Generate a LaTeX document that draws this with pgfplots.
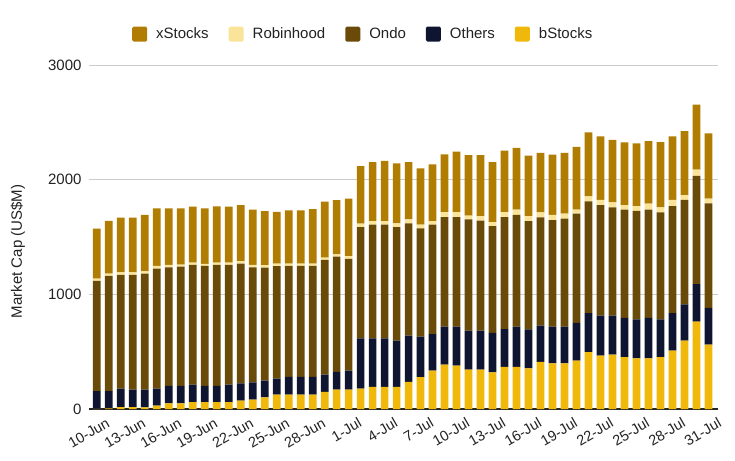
\documentclass[border=0pt]{standalone}
\usepackage{pgfplots}
\usepackage{pgfplotstable}
\pgfplotsset{compat=1.18}
\usepackage{fontspec}
\setmainfont{Liberation Sans}
\definecolor{cx}{HTML}{B07D02}
\definecolor{cr}{HTML}{F9E49A}
\definecolor{cd}{HTML}{6A4A08}
\definecolor{co}{HTML}{0F1530}
\definecolor{cb}{HTML}{F0B80A}
\definecolor{gridgray}{HTML}{CCCCCC}
\definecolor{txt}{HTML}{222222}
\pgfplotstableread{
idx b o d r x
0 2 153 962 20 437
1 5 150 1005 20 461
2 17 161 991 23 478
3 17 152 1000 23 478
4 15 154 1012 20 493
5 29 149 1046 24 501
6 50 151 1035 21 492
7 50 151 1041 17 490
8 61 152 1044 20 487
9 61 140 1047 17 484
10 61 140 1056 20 490
11 61 152 1044 20 487
12 73 151 1044 21 489
13 82 151 1003 21 481
14 102 146 985 21 472
15 125 140 980 23 452
16 125 155 968 20 464
17 125 155 968 20 464
18 125 155 968 20 475
19 149 151 1000 21 487
20 169 155 1004 20 474
21 169 166 975 23 501
22 178 439 970 29 503
23 192 425 990 32 515
24 192 425 990 32 524
25 192 405 990 32 524
26 236 404 979 35 500
27 279 353 943 32 492
28 335 317 955 32 495
29 387 332 955 44 503
30 378 341 955 44 527
31 344 340 970 32 527
32 344 340 958 41 530
33 320 344 931 35 524
34 367 329 978 44 535
35 367 352 975 44 539
36 355 340 944 42 528
37 410 317 945 43 518
38 398 320 930 44 526
39 398 320 942 43 530
40 422 328 953 35 547
41 497 340 974 44 558
42 465 349 965 44 555
43 474 340 945 43 544
44 453 341 944 41 547
45 442 340 945 43 547
46 442 352 944 53 546
47 453 329 933 44 569
48 509 328 933 53 555
49 596 317 910 43 558
50 762 328 942 55 567
51 561 320 913 40 570
}\data
\begin{document}
\begin{tikzpicture}
\useasboundingbox (0,0) rectangle (735bp,461bp);
\begin{axis}[
  at={(89bp,52bp)}, anchor=south west,
  width=629bp, height=344bp, scale only axis,
  ybar stacked, bar width=7.7bp,
  xmin=-0.65, xmax=51.8, ymin=0, ymax=3000,
  ytick={0,1000,2000,3000},
  xtick={0,3,...,51},
  xticklabels={10-Jun,13-Jun,16-Jun,19-Jun,22-Jun,25-Jun,28-Jun,1-Jul,4-Jul,7-Jul,10-Jul,13-Jul,16-Jul,19-Jul,22-Jul,25-Jul,28-Jul,31-Jul},
  ymajorgrids, grid style={draw=gridgray, line width=0.8bp},
  axis line style={draw=none},
  tick style={draw=none},
  /pgf/number format/assume math mode=true,
  /pgf/number format/1000 sep={},
  yticklabel style={font=\fontsize{15bp}{18bp}\selectfont, text=txt, xshift=-4bp},
  xticklabel style={font=\fontsize{14.5bp}{17bp}\selectfont, text=txt, rotate=30, anchor=north east, xshift=7bp, yshift=-8bp},
  ylabel={Market Cap (US\$M)},
  ylabel style={font=\fontsize{15bp}{18bp}\selectfont, text=txt, at={(axis description cs:-0.113,0.458)}, anchor=center},
  reverse legend,
  legend columns=5,
  legend style={draw=none, fill=none, at={(axis description cs:0.436,1.09)}, anchor=center,
    font=\fontsize{15bp}{18bp}\selectfont, text=txt,
    /tikz/every odd column/.append style={column sep=7bp},
    /tikz/every even column/.append style={column sep=18bp}},
  legend image code/.code={\fill[#1, rounded corners=1.5bp] (0bp,-7.5bp) rectangle (15bp,7.5bp);},
]
\addplot[fill=cb, draw=none] table[x=idx,y=b]{\data};
\addlegendentry{bStocks}
\addplot[fill=co, draw=none] table[x=idx,y=o]{\data};
\addlegendentry{Others}
\addplot[fill=cd, draw=none] table[x=idx,y=d]{\data};
\addlegendentry{Ondo}
\addplot[fill=cr, draw=none] table[x=idx,y=r]{\data};
\addlegendentry{Robinhood}
\addplot[fill=cx, draw=none] table[x=idx,y=x]{\data};
\addlegendentry{xStocks}
\draw[black!85, line width=1.2bp] (axis cs:-0.65,0) -- (axis cs:51.8,0);
\end{axis}
\end{tikzpicture}
\end{document}
